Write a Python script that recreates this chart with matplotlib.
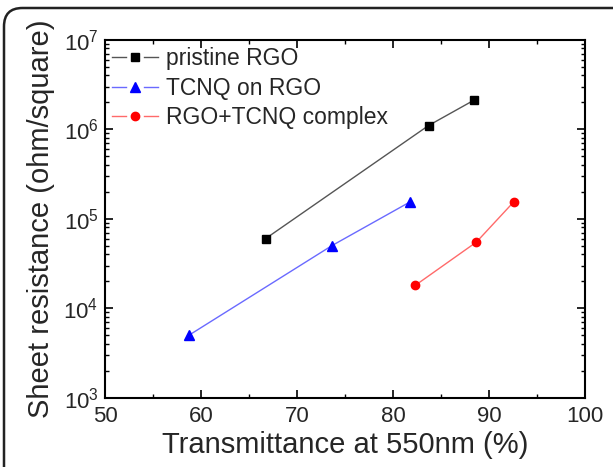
import numpy as np
import matplotlib as mpl
import matplotlib.pyplot as plt
from matplotlib.legend_handler import HandlerBase
from matplotlib.lines import Line2D
from matplotlib.patches import FancyBboxPatch
from matplotlib.ticker import LogLocator, MultipleLocator, NullFormatter

mpl.rcParams.update({
    "font.family": ["Liberation Sans", "DejaVu Sans"],
    "mathtext.fontset": "custom",
    "mathtext.rm": "Liberation Sans",
})

# ---- data -------------------------------------------------------------
x_pristine = [66.7, 83.7, 88.4]
y_pristine = [6.0e4, 1.1e6, 2.1e6]
x_tcnq_on = [58.7, 73.6, 81.8]
y_tcnq_on = [5.0e3, 5.0e4, 1.55e5]
x_complex = [82.3, 88.7, 92.6]
y_complex = [1.8e4, 5.5e4, 1.55e5]

labels = ["pristine RGO", "TCNQ on RGO", "RGO+TCNQ complex"]
xticks = [50, 60, 70, 80, 90, 100]
yticks = [1e3, 1e4, 1e5, 1e6, 1e7]

TXT = "#262626"


class GapHandler(HandlerBase):
    """Origin-style legend key: line - gap - marker - gap - line."""
    def create_artists(self, legend, orig, xd, yd, w, h, fs, trans):
        y = h / 2 - yd
        x0, x1 = -xd, -xd + w
        xm = (x0 + x1) / 2
        gap = 0.2 * w
        kw = dict(color=orig.get_color(), lw=orig.get_linewidth(), transform=trans)
        left = Line2D([x0, xm - gap], [y, y], **kw)
        right = Line2D([xm + gap, x1], [y, y], **kw)
        mark = Line2D([xm], [y], ls="none", marker=orig.get_marker(),
                      ms=orig.get_markersize(), mfc=orig.get_markerfacecolor(),
                      mec=orig.get_markeredgecolor(), transform=trans)
        return [left, right, mark]


fig = plt.figure(figsize=(6.13, 4.67), dpi=100)
ax = fig.add_axes([0.172, 0.148, 0.782, 0.767])

ax.plot(x_pristine, y_pristine, color="#555555", lw=1.0, marker="s", ms=5.5,
        mfc="black", mec="black", label=labels[0])
ax.plot(x_tcnq_on, y_tcnq_on, color="#6a6aff", lw=1.0, marker="^", ms=7,
        mfc="blue", mec="blue", label=labels[1])
ax.plot(x_complex, y_complex, color="#ff6a6a", lw=1.0, marker="o", ms=6,
        mfc="red", mec="red", label=labels[2])

ax.set_yscale("log")
ax.set_xlim(50, 100)
ax.set_ylim(1e3, 1e7)
ax.set_xticks(xticks)
ax.set_xticklabels([str(t) for t in xticks])
ax.set_yticks(yticks)
ax.set_yticklabels([rf"$10^{{{int(np.log10(t))}}}$" for t in yticks])
ax.xaxis.set_minor_locator(MultipleLocator(5))
ax.yaxis.set_minor_locator(LogLocator(base=10, subs=np.arange(2, 10), numticks=20))
ax.yaxis.set_minor_formatter(NullFormatter())

ax.tick_params(which="both", direction="in", top=True, right=True,
               labelsize=16, labelcolor=TXT)
ax.tick_params(axis="x", pad=6)
ax.tick_params(axis="y", pad=5)
ax.tick_params(which="major", length=6, width=1.2)
ax.tick_params(which="minor", length=3, width=1.0)
for s in ax.spines.values():
    s.set_linewidth(1.5)

ax.set_xlabel("Transmittance at 550nm (%)", fontsize=21, labelpad=3, color=TXT)
ax.set_ylabel("Sheet resistance (ohm/square)", fontsize=21, labelpad=6, color=TXT)

handles, labs = ax.get_legend_handles_labels()
ax.legend(handles, labs, loc="upper left", bbox_to_anchor=(0.012, 0.982),
          frameon=False, fontsize=16.5, handlelength=2.0, borderaxespad=0.0,
          borderpad=0.05, handletextpad=0.35, labelspacing=0.28, labelcolor=TXT,
          handler_map={h: GapHandler() for h in handles})

# rounded frame around the picture, clipped at right and bottom
frame = FancyBboxPatch((4 / 613, -0.2), 1.2, 1.2 - 8 / 467,
                       boxstyle="round,pad=0,rounding_size=0.03",
                       transform=fig.transFigure, fill=False, lw=1.8,
                       ec="#222222", mutation_aspect=613 / 467)
fig.patches.append(frame)

fig.savefig("out.png", dpi=100)
